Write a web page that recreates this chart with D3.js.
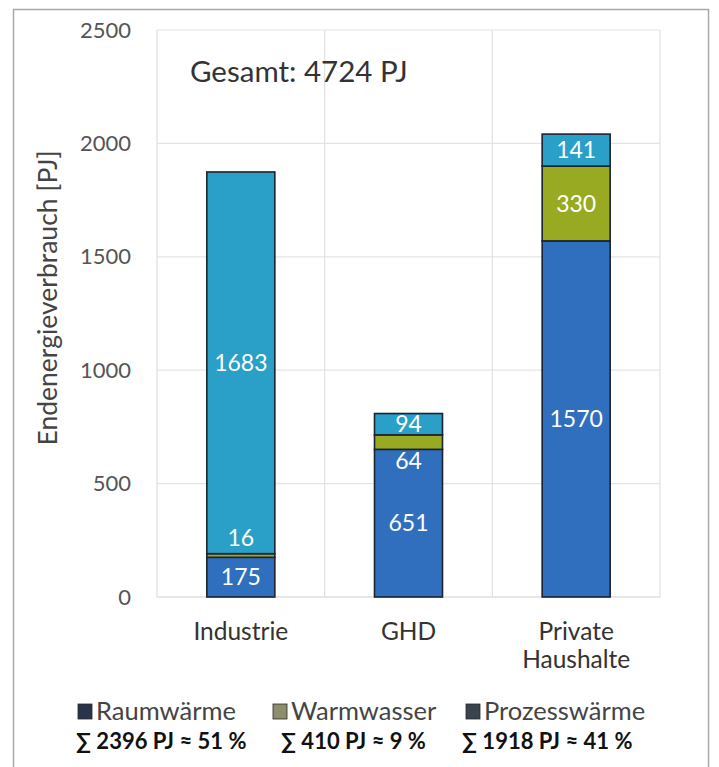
<!DOCTYPE html>
<html>
<head>
<meta charset="utf-8">
<script src="https://cdn.jsdelivr.net/npm/d3@7/dist/d3.min.js"></script>
<style>
  html, body { margin: 0; padding: 0; background: #ffffff; }
  svg { display: block; }
  text { font-family: Lato, "Open Sans", sans-serif; }
</style>
</head>
<body>
<svg id="chart" width="719" height="767"></svg>
<script>
// Endenergieverbrauch für Wärme nach Sektoren [PJ]
const categories = ["Industrie", "GHD", "Private Haushalte"];
const seriesNames = ["Raumwärme", "Warmwasser", "Prozesswärme"];
const raumwaerme = [175, 651, 1570];
const warmwasser = [16, 64, 330];
const prozesswaerme = [1683, 94, 141];
const yTicks = [0, 500, 1000, 1500, 2000, 2500];
const totalLabel = "Gesamt: 4724 PJ";
const sumLabels = ["∑ 2396 PJ ≈ 51 %", "∑ 410 PJ ≈ 9 %", "∑ 1918 PJ ≈ 41 %"];

const barColors = ["#2f6fbe", "#98aa22", "#2a9fc8"];
const legendColors = ["#27344a", "#8e8d6c", "#3a444f"];

const svg = d3.select("#chart");

// outer frame
svg.append("rect")
  .attr("x", 13.5).attr("y", 9.5).attr("width", 695).attr("height", 760)
  .attr("fill", "#ffffff").attr("stroke", "#a9a9a9").attr("stroke-width", 1.5);

const plot = { left: 157, right: 660, top: 30, bottom: 597 };

const x = d3.scaleBand()
  .domain(categories)
  .range([plot.left, plot.right])
  .paddingInner(0).paddingOuter(0);

const y = d3.scaleLinear().domain([0, 2500]).range([plot.bottom, plot.top]);

const g = svg.append("g");

// horizontal gridlines
g.append("g")
  .selectAll("line").data(yTicks).join("line")
  .attr("x1", plot.left).attr("x2", plot.right)
  .attr("y1", d => y(d)).attr("y2", d => y(d))
  .attr("stroke", d => d === 0 ? "#d0d0d0" : "#e4e4e4").attr("stroke-width", 1.2);

// vertical gridlines between categories
const vlines = [plot.left].concat(categories.map(c => x(c) + x.bandwidth()));
g.append("g")
  .selectAll("line").data(vlines).join("line")
  .attr("x1", d => d).attr("x2", d => d)
  .attr("y1", plot.top).attr("y2", plot.bottom)
  .attr("stroke", "#e0e0e0").attr("stroke-width", 1.2);

// y axis labels
const yAxis = d3.axisLeft(y).tickValues(yTicks).tickFormat(d3.format("d")).tickSize(0).tickPadding(0);
const ya = svg.append("g").attr("transform", `translate(${plot.left - 26},0)`).call(yAxis);
ya.select(".domain").remove();
ya.selectAll("text")
  .attr("fill", "#555555").attr("font-size", 22)
  .style("font-family", "Lato, 'Open Sans', sans-serif");

// y axis title
svg.append("text")
  .attr("transform", `translate(57,298) rotate(-90)`)
  .attr("text-anchor", "middle")
  .attr("fill", "#444444").attr("font-size", 26.5)
  .text("Endenergieverbrauch [PJ]");

// stacked bars
const rows = categories.map((c, i) => ({
  cat: c, "Raumwärme": raumwaerme[i], "Warmwasser": warmwasser[i], "Prozesswärme": prozesswaerme[i]
}));
const stacked = d3.stack().keys(seriesNames)(rows);

const barW = 68;
const layers = g.append("g").selectAll("g").data(stacked).join("g")
  .attr("fill", (d, i) => barColors[i]);

layers.selectAll("rect").data(d => d).join("rect")
  .attr("x", d => x(d.data.cat) + x.bandwidth() / 2 - barW / 2)
  .attr("width", barW)
  .attr("y", d => y(d[1]))
  .attr("height", d => y(d[0]) - y(d[1]))
  .attr("stroke", "#1b2230").attr("stroke-width", 1.6);

// value labels; thin segments move their label just outside the segment
const thinShift = { "Industrie": -18, "GHD": 19 };
stacked.forEach((layer, li) => {
  g.append("g").selectAll("text").data(layer).join("text")
    .attr("x", d => x(d.data.cat) + x.bandwidth() / 2)
    .attr("y", d => {
      const mid = (y(d[0]) + y(d[1])) / 2;
      const h = y(d[0]) - y(d[1]);
      return mid + (h < 20 ? (thinShift[d.data.cat] || 0) : 0);
    })
    .attr("dy", "0.36em")
    .attr("text-anchor", "middle")
    .attr("fill", "#ffffff").attr("font-size", 23)
    .text(d => d[1] - d[0]);
});

// category labels
const catLines = { "Private Haushalte": ["Private", "Haushalte"] };
categories.forEach(c => {
  const lines = catLines[c] || [c];
  const t = svg.append("text")
    .attr("x", x(c) + x.bandwidth() / 2)
    .attr("y", 640)
    .attr("text-anchor", "middle")
    .attr("fill", "#333333").attr("font-size", 24.5);
  lines.forEach((ln, k) => {
    t.append("tspan").attr("x", x(c) + x.bandwidth() / 2).attr("dy", k === 0 ? 0 : 28).text(ln);
  });
});

// total annotation
svg.append("text")
  .attr("x", 190).attr("y", 82)
  .attr("fill", "#333333").attr("font-size", 29.5)
  .text(totalLabel);

// legend
const legendX = [78, 273, 466];
const sumX = [76, 281, 462];
seriesNames.forEach((s, i) => {
  svg.append("rect")
    .attr("x", legendX[i]).attr("y", 704).attr("width", 14).attr("height", 15)
    .attr("fill", legendColors[i]).attr("stroke", "#2a2a2a").attr("stroke-width", 0.8);
  svg.append("text")
    .attr("x", legendX[i] + 18).attr("y", 720)
    .attr("fill", "#444444").attr("font-size", 25.5)
    .text(s);
  svg.append("text")
    .attr("x", sumX[i]).attr("y", 749)
    .attr("fill", "#111111").attr("font-size", 22).attr("font-weight", "bold")
    .text(sumLabels[i]);
});
</script>
</body>
</html>
